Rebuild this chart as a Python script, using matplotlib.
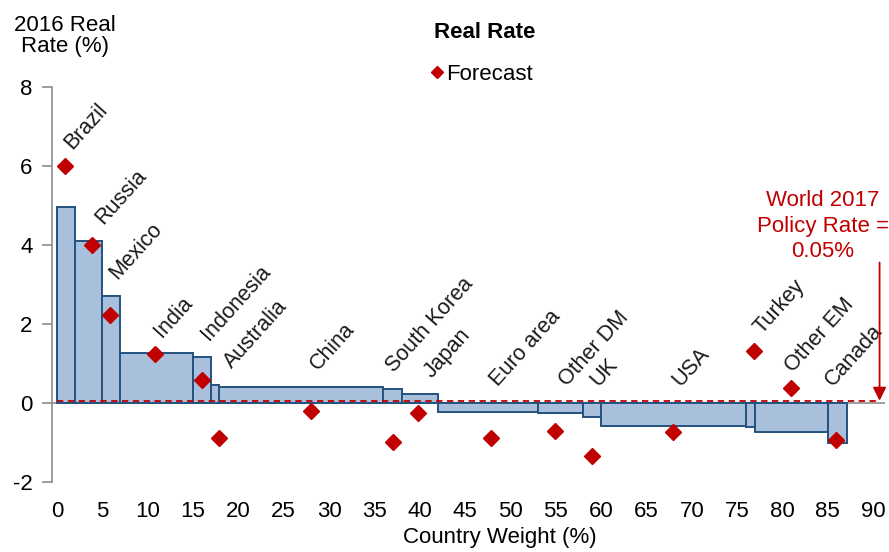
import numpy as np
import matplotlib.pyplot as plt

plt.rcParams['font.family'] = ['Liberation Sans', 'DejaVu Sans']
plt.rcParams['axes.unicode_minus'] = False

# country weights (%) and 2016 real rates, ordered as in the chart
countries = ['Brazil', 'Russia', 'Mexico', 'India', 'Indonesia', 'Australia',
             'China', 'South Korea', 'Japan', 'Euro area', 'Other DM', 'UK',
             'USA', 'Turkey', 'Other EM', 'Canada']
weights = [2.0, 3.0, 2.0, 8.0, 2.0, 0.9, 18.0, 2.1, 4.0, 11.0, 5.0, 2.0,
           16.0, 1.0, 8.0, 2.1]
real_rate = [4.95, 4.1, 2.7, 1.25, 1.15, 0.45, 0.4, 0.34, 0.22, -0.23, -0.27,
             -0.35, -0.58, -0.61, -0.75, -1.02]
# forecast points: x position on the weight axis and value
forecast_pos = [0.9, 3.9, 5.8, 10.8, 15.95, 17.9, 28.0, 37.0, 39.8, 47.85,
                54.9, 58.95, 67.95, 76.9, 80.9, 85.9]
forecast = [6.0, 4.0, 2.23, 1.23, 0.57, -0.9, -0.22, -1.0, -0.25, -0.9, -0.72,
            -1.34, -0.73, 1.32, 0.36, -0.95]
world_rate = 0.05

w = np.array(weights)
left = np.concatenate(([0], np.cumsum(w)[:-1]))

fig = plt.figure(figsize=(8.89, 5.52), dpi=100)
ax = fig.add_axes([52 / 889, 70.3 / 552, 833 / 889, 395 / 552])

# bars (variable width)
ax.bar(left, real_rate, width=w, align='edge', color='#a8c0dc',
       edgecolor='#24527e', linewidth=1.4, zorder=2)

# zero axis line
ax.axhline(0, color='#8c8c8c', linewidth=1.2, zorder=1)

# world policy rate (dashed)
ax.plot([0, 90.7], [world_rate, world_rate], color='#c00000', linestyle='--',
        linewidth=1.3, dashes=(3.5, 2.5), zorder=3)

# forecast diamonds
pts, = ax.plot(forecast_pos, forecast, linestyle='none', marker='D',
               markersize=8.5, color='#c00000', label='Forecast', zorder=4)

# rotated country labels (a few nudged sideways like the original)
nudge = {'Russia': 0.4, 'Australia': 0.6, 'Japan': 0.7, 'Other DM': 0.5,
         'South Korea': -0.6, 'Other EM': -0.5, 'Canada': -1.2}
for i, name in enumerate(countries):
    y = max(real_rate[i], forecast[i], 0) + 0.4
    x = forecast_pos[i] + 0.8 + nudge.get(name, 0)
    ax.text(x, y, name, rotation=48, rotation_mode='anchor',
            ha='left', va='baseline', fontsize=15.5, color='#1a1a1a')

# annotation for world rate
ax.text(84.45, 4.47, 'World 2017\nPolicy Rate =\n0.05%', ha='center',
        va='center', fontsize=16, color='#c00000', linespacing=1.3)
ax.annotate('', xy=(90.7, world_rate), xytext=(90.7, 3.55),
            arrowprops=dict(arrowstyle='-|>', color='#c00000', lw=1.3,
                            mutation_scale=20, shrinkA=0, shrinkB=0))

ax.set_xlim(-0.55, 91.3)
ax.set_ylim(-2, 8)
ax.set_xticks(np.arange(0, 91, 5))
ax.set_yticks(np.arange(-2, 9, 2))
ax.tick_params(axis='x', length=0, pad=14, labelsize=16)
ax.tick_params(axis='y', length=7, width=1.2, color='#8c8c8c', pad=7,
               labelsize=16)
for s in ['top', 'right', 'bottom']:
    ax.spines[s].set_visible(False)
ax.spines['left'].set_color('#8c8c8c')
ax.spines['left'].set_linewidth(1.2)

fig.text(500 / 889, 1 - 537 / 552, 'Country Weight (%)', ha='center',
         va='center', fontsize=16)
fig.text(65 / 889, 1 - 36 / 552, '2016 Real\nRate (%)', ha='center',
         va='center', fontsize=16, linespacing=1.05)
fig.text(485 / 889, 1 - 32 / 552, 'Real Rate', ha='center', va='center',
         fontsize=16, fontweight='bold')
fig.legend(handles=[pts], loc='center', bbox_to_anchor=(482 / 889, 1 - 74 / 552),
           frameon=False, fontsize=16, markerscale=0.7, handlelength=0.5,
           handletextpad=0.15, borderpad=0)

fig.savefig('out.png', dpi=100)
